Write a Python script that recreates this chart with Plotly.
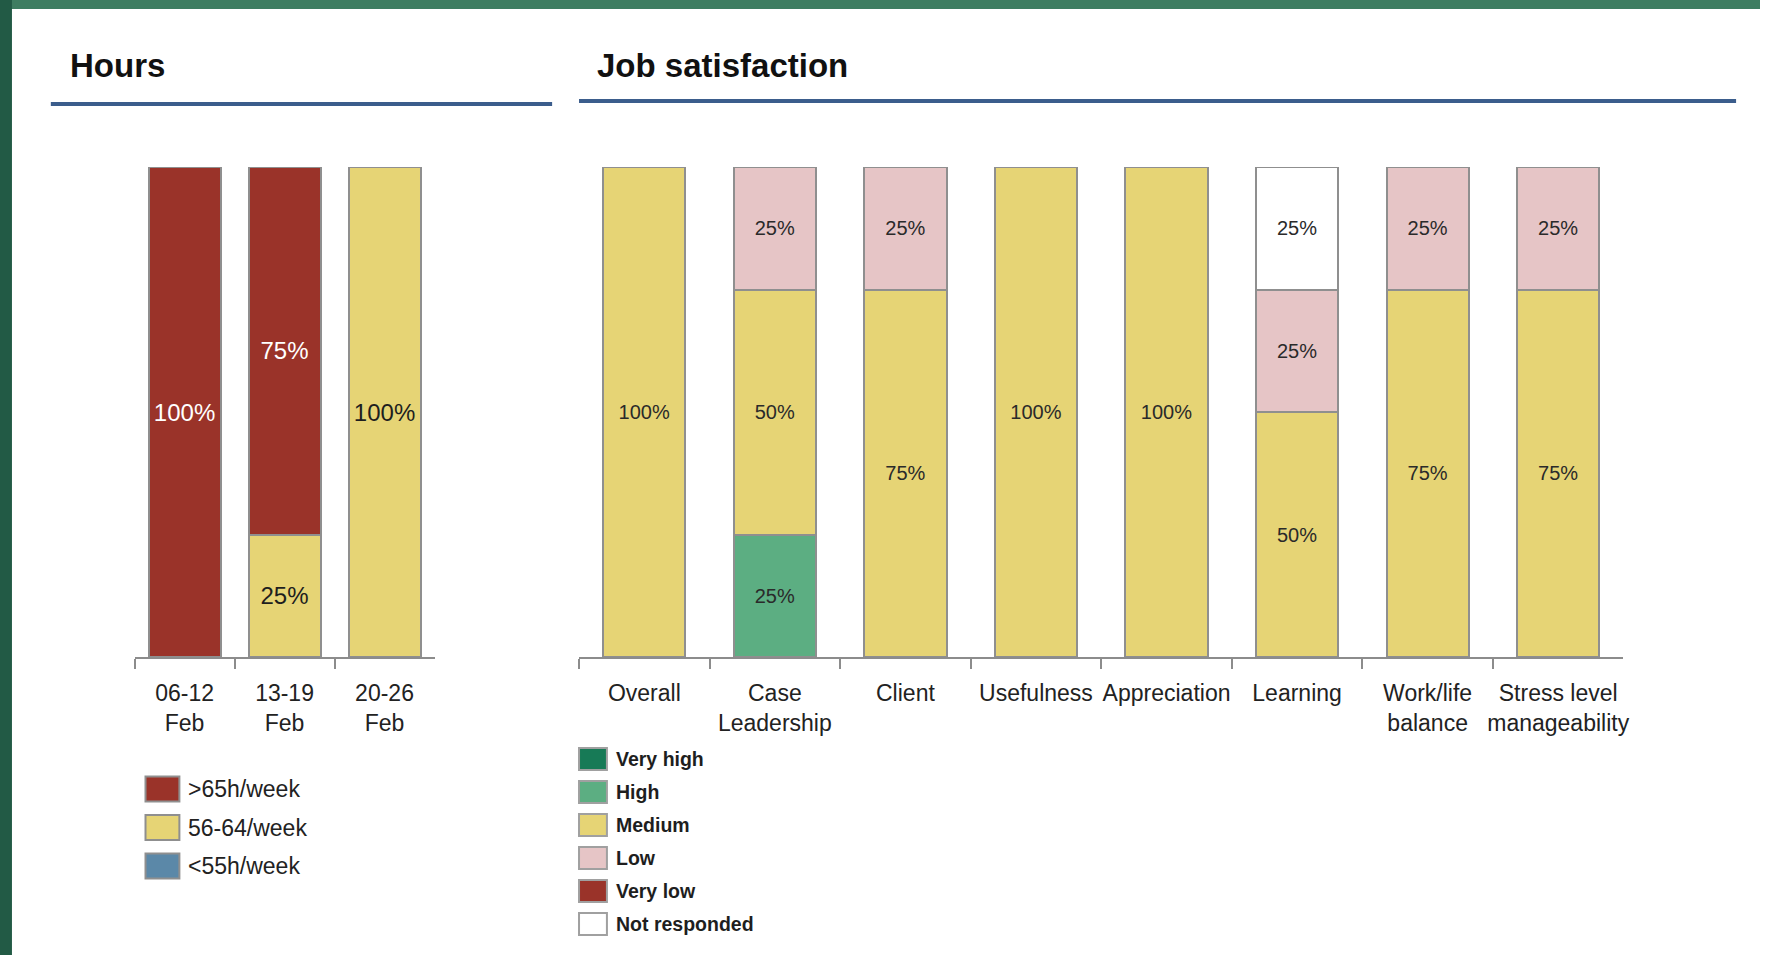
import plotly.graph_objects as go

W, H = 1766, 955

# ---------------- data ----------------
hours_categories = ["06-12<br>Feb", "13-19<br>Feb", "20-26<br>Feb"]
hours_gt65 = [100, 75, 0]
hours_56_64 = [0, 25, 100]
hours_lt55 = [0, 0, 0]
hours_series = [">65h/week", "56-64/week", "<55h/week"]

job_categories = ["Overall", "Case<br>Leadership", "Client", "Usefulness",
                  "Appreciation", "Learning", "Work/life<br>balance",
                  "Stress level<br>manageability"]
job_very_high = [0, 0, 0, 0, 0, 0, 0, 0]
job_high = [0, 25, 0, 0, 0, 0, 0, 0]
job_medium = [100, 50, 75, 100, 100, 50, 75, 75]
job_low = [0, 25, 25, 0, 0, 25, 25, 25]
job_very_low = [0, 0, 0, 0, 0, 0, 0, 0]
job_not_responded = [0, 0, 0, 0, 0, 25, 0, 0]
job_series = ["Very high", "High", "Medium", "Low", "Very low", "Not responded"]

# ---------------- styles ----------------
C_RED = "#9a3329"
C_YEL = "#e6d475"
C_BLUE = "#5b88a8"
C_VHIGH = "#177a56"
C_HIGH = "#5cae82"
C_LOW = "#e6c5c6"
C_WHITE = "#ffffff"
OUTLINE = "#8f8f8f"
AXIS = "#8c8c8c"
TITLE_LINE = "#3b5d8c"
TXT = "#1e1e1e"


def px_x(p):
    return p / W


def px_y(p):
    return 1 - p / H


def nz(vals):
    return [v if v else None for v in vals]


def lbl(vals):
    return [f"{v}%" if v else "" for v in vals]


fig = go.Figure()

# Hours (stack bottom -> top)
hours_stack = [
    (hours_series[2], hours_lt55, C_BLUE, TXT),
    (hours_series[1], hours_56_64, C_YEL, TXT),
    (hours_series[0], hours_gt65, C_RED, "#ffffff"),
]
for name, vals, col, tcol in hours_stack:
    fig.add_trace(go.Bar(
        x=hours_categories, y=nz(vals), name=name, text=lbl(vals),
        textposition="inside", insidetextanchor="middle", textangle=0,
        textfont=dict(family="Liberation Sans, Arial", size=24, color=tcol),
        marker=dict(color=col, line=dict(color=OUTLINE, width=2)),
        width=0.72, xaxis="x", yaxis="y", showlegend=False,
        constraintext="none", hoverinfo="skip",
    ))

# Job satisfaction (stack bottom -> top)
job_stack = [
    (job_series[0], job_very_high, C_VHIGH),
    (job_series[1], job_high, C_HIGH),
    (job_series[2], job_medium, C_YEL),
    (job_series[3], job_low, C_LOW),
    (job_series[4], job_very_low, C_RED),
    (job_series[5], job_not_responded, C_WHITE),
]
for name, vals, col in job_stack:
    fig.add_trace(go.Bar(
        x=job_categories, y=nz(vals), name=name, text=lbl(vals),
        textposition="inside", insidetextanchor="middle", textangle=0,
        textfont=dict(family="Liberation Sans, Arial", size=20, color="#2a2a2a"),
        marker=dict(color=col, line=dict(color=OUTLINE, width=2)),
        width=0.63, xaxis="x2", yaxis="y2", showlegend=False,
        constraintext="none", hoverinfo="skip",
    ))

axis_common = dict(
    type="category", showline=True, linecolor=AXIS, linewidth=2,
    ticks="outside", ticklen=10, tickwidth=2, tickcolor=AXIS,
    tickson="boundaries", showgrid=False, zeroline=False, fixedrange=True,
    tickangle=0,
    tickfont=dict(family="Liberation Sans, Arial", size=23, color="#222222"),
    ticklabelstandoff=14,
)
ydom = [px_y(657), px_y(167)]

fig.update_layout(
    width=W, height=H, margin=dict(l=0, r=0, t=0, b=0),
    paper_bgcolor="white", plot_bgcolor="rgba(0,0,0,0)",
    barmode="stack", showlegend=False,
    xaxis=dict(domain=[px_x(135), px_x(436)], anchor="y",
               range=[-0.5, 2.5], **axis_common),
    yaxis=dict(domain=ydom, range=[0, 100], visible=False, fixedrange=True),
    xaxis2=dict(domain=[px_x(581), px_x(1629)], anchor="y2",
                range=[-0.5, 7.5], **axis_common),
    yaxis2=dict(domain=ydom, range=[0, 100], visible=False, fixedrange=True),
)

shapes = []
annotations = []

# green frame (top and left)
shapes.append(dict(type="rect", xref="paper", yref="paper", x0=0, x1=1,
                   y0=px_y(9), y1=1, fillcolor="#3e7d61", line_width=0, layer="above"))
shapes.append(dict(type="rect", xref="paper", yref="paper", x0=0, x1=px_x(12),
                   y0=0, y1=1, fillcolor="#225a45", line_width=0, layer="above"))

# section titles with underline
for text, tx, ty, lx0, lx1, ly in [
    ("Hours", 68, 66, 51, 554, 104),
    ("Job satisfaction", 597, 65, 581, 1742, 101),
]:
    annotations.append(dict(text=text, xref="paper", yref="paper",
                            x=px_x(tx), y=px_y(ty), xanchor="left", yanchor="middle",
                            showarrow=False,
                            font=dict(family="Liberation Sans, Arial", size=33,
                                      color="#111111", weight="bold")))
    shapes.append(dict(type="line", xref="paper", yref="paper",
                       x0=px_x(lx0), x1=px_x(lx1), y0=px_y(ly), y1=px_y(ly),
                       line=dict(color=TITLE_LINE, width=4)))

# Hours legend
hours_leg_colors = [C_RED, C_YEL, C_BLUE]
for i, (name, col) in enumerate(zip(hours_series, hours_leg_colors)):
    cy = 789 + i * 38.5
    shapes.append(dict(type="rect", xref="paper", yref="paper",
                       x0=px_x(146), x1=px_x(180), y0=px_y(cy + 12.5), y1=px_y(cy - 12.5),
                       fillcolor=col, line=dict(color=OUTLINE, width=2)))
    annotations.append(dict(text=name, xref="paper", yref="paper",
                            x=px_x(187), y=px_y(cy), xanchor="left", yanchor="middle",
                            showarrow=False,
                            font=dict(family="Liberation Sans, Arial", size=23, color="#222222")))

# Job legend
job_leg_colors = [C_VHIGH, C_HIGH, C_YEL, C_LOW, C_RED, C_WHITE]
for i, (name, col) in enumerate(zip(job_series, job_leg_colors)):
    cy = 759 + i * 33
    shapes.append(dict(type="rect", xref="paper", yref="paper",
                       x0=px_x(581), x1=px_x(609), y0=px_y(cy + 11), y1=px_y(cy - 11),
                       fillcolor=col, line=dict(color="#a0a0a0", width=2)))
    annotations.append(dict(text=name, xref="paper", yref="paper",
                            x=px_x(616), y=px_y(cy), xanchor="left", yanchor="middle",
                            showarrow=False,
                            font=dict(family="Liberation Sans, Arial", size=19.5,
                                      color="#1e1e1e", weight="bold")))

fig.update_layout(shapes=shapes, annotations=annotations)

fig.write_html(
    "out.html",
    config={"displayModeBar": False},
    post_script="document.body.style.margin='0';document.body.style.overflow='hidden';",
)
